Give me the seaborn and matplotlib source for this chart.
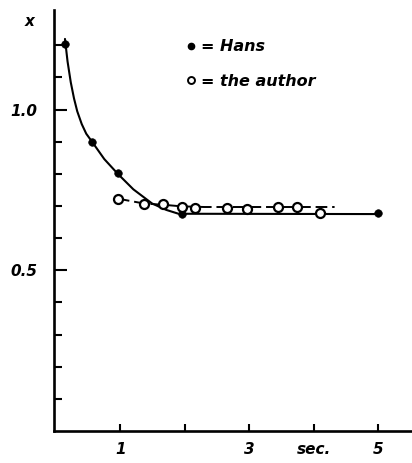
import matplotlib
matplotlib.use("Agg")
import matplotlib.pyplot as plt
from matplotlib.lines import Line2D
import seaborn as sns

# data (time in sec., x)
hans_t = [0.14, 0.56, 0.96, 1.95, 4.99]
hans_x = [1.205, 0.90, 0.804, 0.674, 0.678]
hans_curve_t = [0.14, 0.18, 0.23, 0.28, 0.33, 0.40, 0.47, 0.56, 0.75, 0.96,
                1.2, 1.49, 1.71, 1.9, 5.0]
hans_curve_x = [1.22, 1.15, 1.085, 1.035, 0.995, 0.955, 0.925, 0.90, 0.846, 0.80,
                0.752, 0.708, 0.688, 0.676, 0.675]

author_t = [0.96, 1.36, 1.66, 1.95, 2.15, 2.65, 2.96, 3.44, 3.74, 4.09]
author_x = [0.723, 0.707, 0.707, 0.698, 0.695, 0.695, 0.692, 0.698, 0.698, 0.677]
author_curve_t = [0.96, 1.36, 1.66, 1.95, 2.3, 4.32]
author_curve_x = [0.723, 0.708, 0.704, 0.699, 0.697, 0.697]

x_ticks = [1, 2, 3, 4, 5]
x_ticklabels = ["1", "", "3", "sec.", "5"]
y_major = [0.5, 1.0]
y_minor = [0.1, 0.2, 0.3, 0.4, 0.6, 0.7, 0.8, 0.9, 1.1, 1.2]

sns.set_style("ticks", {"axes.edgecolor": "black", "text.color": "black",
                        "xtick.color": "black", "ytick.color": "black"})
plt.rcParams["font.family"] = ["DejaVu Sans"]

fig = plt.figure(figsize=(4.12, 4.63), dpi=100)
ax = fig.add_axes([54 / 412, 32 / 463, 358 / 412, 421 / 463])

sns.lineplot(x=hans_curve_t, y=hans_curve_x, sort=False, color="black", lw=1.5, ax=ax)
sns.lineplot(x=author_curve_t, y=author_curve_x, sort=False, color="black", lw=1.4,
             linestyle=(0, (6, 2.5)), ax=ax)
sns.scatterplot(x=hans_t, y=hans_x, color="black", s=30, edgecolor="black", zorder=5, ax=ax)
sns.scatterplot(x=author_t, y=author_x, facecolor="white", edgecolor="black", s=42,
                linewidth=1.6, zorder=6, ax=ax)

ax.set_xlim(-0.03, 5.52)
ax.set_ylim(0, 1.31)
sns.despine(ax=ax)
for s in ["left", "bottom"]:
    ax.spines[s].set_linewidth(1.9)

ax.set_xticks(x_ticks)
ax.set_xticklabels(x_ticklabels)
ax.set_yticks(y_major)
ax.set_yticklabels(["0.5", "1.0"])
ax.set_yticks(y_minor, minor=True)
ax.tick_params(axis="y", which="major", direction="in", length=9.5, width=1.5, pad=12)
ax.tick_params(axis="y", which="minor", direction="in", length=6, width=1.5)
ax.tick_params(axis="x", which="major", direction="in", length=5, width=1.5, pad=8)
for lab in ax.get_xticklabels() + ax.get_yticklabels():
    lab.set_fontsize(11)
    lab.set_fontweight("bold")
    lab.set_fontstyle("italic")
    lab.set_color("black")

fig.text(30 / 412, 1 - 22 / 463, "x", fontsize=11, fontweight="bold", fontstyle="italic",
         ha="center", va="center", color="black")

handles = [
    Line2D([], [], marker="o", color="black", linestyle="none", markersize=4.5),
    Line2D([], [], marker="o", markerfacecolor="white", markeredgecolor="black",
           markeredgewidth=1.4, linestyle="none", markersize=5),
]
leg = ax.legend(handles, ["= Hans", "= the author"], loc="upper left",
                bbox_to_anchor=(0.33, 0.965), frameon=False, handlelength=0.6,
                handletextpad=0.3, labelspacing=1.25,
                prop={"size": 11.5, "weight": "bold", "style": "italic"})
for t in leg.get_texts():
    t.set_color("black")

fig.savefig("out.png", dpi=100)
